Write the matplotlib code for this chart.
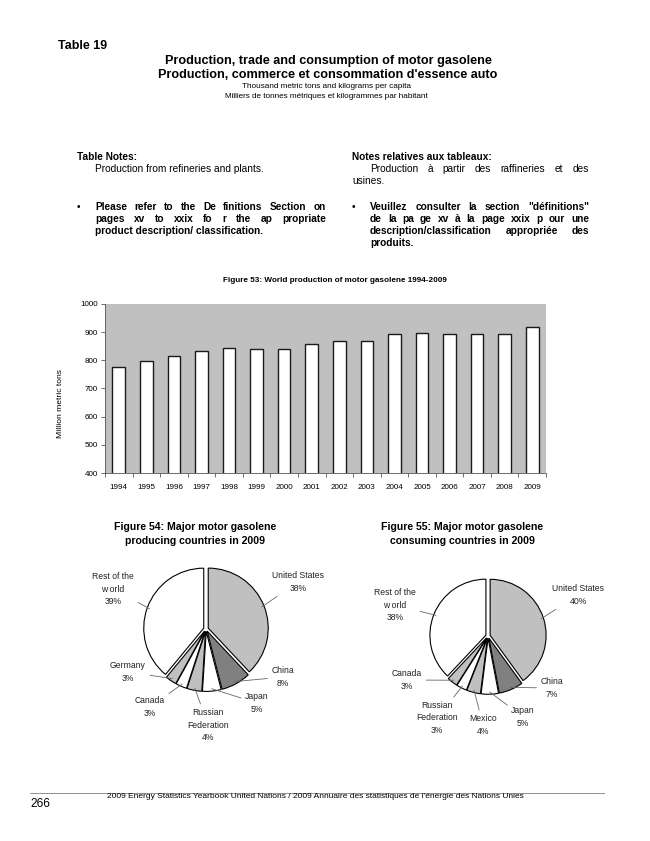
import numpy as np
import matplotlib
matplotlib.use("Agg")
import matplotlib.pyplot as plt

plt.rcParams["font.family"] = ["Liberation Sans", "DejaVu Sans"]

# ---- data ----
years = [str(y) for y in range(1994, 2010)]
production = [778, 798, 814, 833, 844, 839, 842, 857, 867, 869,
              893, 897, 895, 893, 895, 920]

prod_countries = ["United States", "China", "Japan", "Russian\nFederation",
                  "Canada", "Germany", "Rest of the\nw orld"]
prod_share = [38, 8, 5, 4, 3, 3, 39]

cons_countries = ["United States", "China", "Japan", "Mexico",
                  "Russian\nFederation", "Canada", "Rest of the\nw orld"]
cons_share = [40, 7, 5, 4, 3, 3, 38]

W, H = 650, 841
LIGHT, DARK = "#c0c0c0", "#808080"

fig = plt.figure(figsize=(W / 100, H / 100), dpi=100)
renderer = fig.canvas.get_renderer()


def fx(px):
    return px / W


def fy(py):
    return 1 - py / H


def put(x, y, s, **kw):
    kw.setdefault("va", "center")
    return fig.text(fx(x), fy(y), s, **kw)


def justify(x0, x1, y, s, **kw):
    # spread the words of one line over x0..x1 (justified paragraph)
    words = s.split()
    texts = [put(0, y, w, **kw) for w in words]
    widths = [t.get_window_extent(renderer).width for t in texts]
    gap = (x1 - x0 - sum(widths)) / max(len(words) - 1, 1)
    x = x0
    for t, w in zip(texts, widths):
        t.set_x(fx(x))
        x += w + gap


# ---- page header ----
put(58, 46, "Table 19", fontsize=9, fontweight="bold")
put(328, 61, "Production, trade and consumption of motor gasolene",
    fontsize=9.1, fontweight="bold", ha="center")
put(328, 75, "Production, commerce et consommation d'essence auto",
    fontsize=9.1, fontweight="bold", ha="center")
put(327, 87, "Thousand metric tons and kilograms per capita", fontsize=5.9, ha="center")
put(326, 97, "Milliers de tonnes métriques et kilogrammes par habitant",
    fontsize=5.9, ha="center")

# ---- notes ----
nf = 7.3
put(77, 157, "Table Notes:", fontsize=nf, fontweight="bold")
put(95, 169, "Production from refineries and plants.", fontsize=nf)
put(77, 207, "•", fontsize=nf)
justify(95, 326, 207, "Please refer to the De finitions Section on", fontsize=nf, fontweight="bold")
justify(95, 326, 219, "pages xv to xxix fo r the ap propriate", fontsize=nf, fontweight="bold")
put(95, 231, "product description/ classification.", fontsize=nf, fontweight="bold")

put(352, 157, "Notes relatives aux tableaux:", fontsize=nf, fontweight="bold")
justify(370, 589, 169, "Production à partir des raffineries et des", fontsize=nf)
put(352, 181, "usines.", fontsize=nf)
put(352, 207, "•", fontsize=nf)
justify(370, 589, 207, "Veuillez consulter la section \"définitions\"", fontsize=nf, fontweight="bold")
justify(370, 589, 219, "de la pa ge xv à la page xxix p our une", fontsize=nf, fontweight="bold")
justify(370, 589, 231, "description/classification appropriée des", fontsize=nf, fontweight="bold")
put(370, 243, "produits.", fontsize=nf, fontweight="bold")

# ---- Figure 53: bar chart ----
put(335, 281, "Figure 53: World production of motor gasolene 1994-2009",
    fontsize=5.9, fontweight="bold", ha="center")
ax = fig.add_axes([fx(105), fy(473), fx(546) - fx(105), fy(304) - fy(473)])
ax.set_facecolor(LIGHT)
x = np.arange(len(years))
ax.bar(x, production, width=0.46, color="white", edgecolor="#1a1a1a", linewidth=1.0)
ax.set_ylim(400, 1000)
ax.set_xlim(-0.5, len(years) - 0.5)
ax.set_yticks(range(400, 1001, 100))
ax.set_xticks(x)
ax.set_xticklabels(years)
ax.set_xticks(np.arange(-0.5, len(years), 1), minor=True)
ax.tick_params(axis="x", which="major", length=0, labelsize=5.8, pad=8)
ax.tick_params(axis="x", which="minor", length=3, width=0.6, color="#555555")
ax.tick_params(axis="y", length=3, width=0.6, labelsize=5.8, pad=2, color="#555555")
for s in ("top", "right"):
    ax.spines[s].set_visible(False)
for s in ("left", "bottom"):
    ax.spines[s].set_linewidth(0.6)
    ax.spines[s].set_color("#555555")
put(61, 404, "Million metric tons", fontsize=6.1, rotation=90, ha="center")


# ---- pie charts ----
def pie(cx, cy, r, labels, values, colors, label_px, title, tx):
    lim = 2.0
    pax = fig.add_axes([fx(cx - lim * r), fy(cy + lim * r),
                        2 * lim * r / W, 2 * lim * r / H])
    pax.pie(values, colors=colors, startangle=90, counterclock=False,
            explode=[0.04] * len(values),
            wedgeprops=dict(edgecolor="black", linewidth=0.8))
    pax.set_xlim(-lim, lim)
    pax.set_ylim(-lim, lim)
    pax.set_aspect("equal")
    pax.axis("off")
    total = float(sum(values))
    cum = np.cumsum(values) - np.array(values) / 2.0
    for lab, v, c, (lx, ly) in zip(labels, values, cum, label_px):
        ang = np.deg2rad(90 - 360 * c / total)
        ex, ey = 1.0 * np.cos(ang), 1.0 * np.sin(ang)
        pax.annotate(f"{lab}\n{v}%", xy=(ex, ey),
                     xytext=((lx - cx) / r, (cy - ly) / r),
                     ha="center", va="center", fontsize=6.2, color="#222222",
                     multialignment="center", linespacing=1.5,
                     arrowprops=dict(arrowstyle="-", color="#666666", lw=0.6,
                                     shrinkA=1, shrinkB=0))
    put(tx, 527, title[0], fontsize=7.6, fontweight="bold", ha="center")
    put(tx, 541, title[1], fontsize=7.6, fontweight="bold", ha="center")


pie(206, 629, 60, prod_countries, prod_share,
    [LIGHT, DARK, "white", LIGHT, "white", LIGHT, "white"],
    [(298, 582), (283, 677), (257, 703), (208, 725), (150, 707), (128, 672), (113, 589)],
    ("Figure 54: Major motor gasolene", "producing countries in 2009"), 195)

pie(488, 636, 56, cons_countries, cons_share,
    [LIGHT, DARK, "white", LIGHT, "white", LIGHT, "white"],
    [(578, 595), (552, 688), (523, 717), (483, 725), (437, 718), (407, 680), (395, 605)],
    ("Figure 55: Major motor gasolene", "consuming countries in 2009"), 462)

# ---- footer ----
fig.add_artist(plt.Line2D([fx(30), fx(604)], [fy(793), fy(793)], color="#808080", lw=0.6))
put(30, 804, "266", fontsize=8.6)
put(107, 797, "2009 Energy Statistics Yearbook United Nations / 2009 Annuaire des statistiques "
    "de l'énergie des Nations Unies", fontsize=6.0)

fig.savefig("out.png", dpi=100)
